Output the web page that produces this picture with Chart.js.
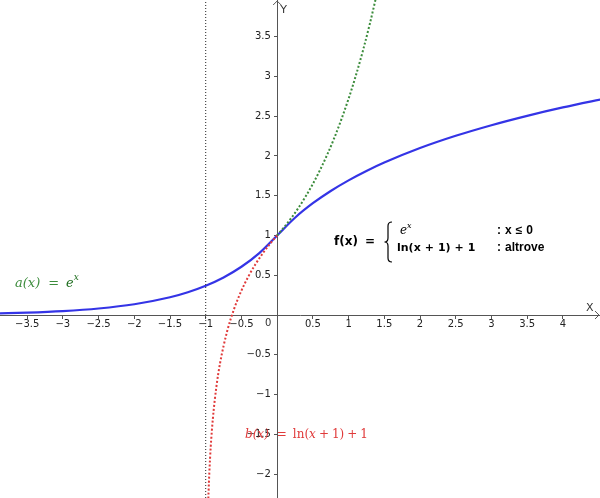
<!DOCTYPE html>
<html>
<head>
<meta charset="utf-8">
<script src="https://cdn.jsdelivr.net/npm/chart.js@4/dist/chart.umd.min.js"></script>
<style>
  html, body { margin: 0; padding: 0; background: #fff; }
  #grafico { display: block; }
</style>
</head>
<body>
<canvas id="grafico" width="600" height="498"></canvas>
<script>
// range degli assi
const xMin = -3.88, xMax = 4.52;
const yMin = -2.30, yMax = 3.96;

// tacche sugli assi
const xTicks = [-3.5, -3, -2.5, -2, -1.5, -1, -0.5, 0.5, 1, 1.5, 2, 2.5, 3, 3.5, 4];
const yTicks = [-2, -1.5, -1, -0.5, 0.5, 1, 1.5, 2, 2.5, 3, 3.5];

// f(x): e^x per x <= 0, ln(x+1)+1 altrove
const fX = [-3.9, -3.5, -3, -2.5, -2, -1.5, -1.25, -1, -0.75, -0.5, -0.25, 0,
            0.25, 0.5, 0.75, 1, 1.25, 1.5, 2, 2.5, 3, 3.5, 4, 4.6];
const fY = [0.0202, 0.0302, 0.0498, 0.0821, 0.1353, 0.2231, 0.2865, 0.3679, 0.4724, 0.6065, 0.7788, 1,
            1.2231, 1.4055, 1.5596, 1.6931, 1.8109, 1.9163, 2.0986, 2.2528, 2.3863, 2.5041, 2.6094, 2.7228];

// a(x) = e^x (tratteggiata, parte x > 0)
const aX = [0, 0.2, 0.4, 0.6, 0.8, 1.0, 1.1, 1.2, 1.3, 1.4];
const aY = [1, 1.2214, 1.4918, 1.8221, 2.2255, 2.7183, 3.0042, 3.3201, 3.6693, 4.0552];

// b(x) = ln(x+1)+1 (tratteggiata, parte -1 < x <= 0)
const bX = [-0.98, -0.975, -0.97, -0.96, -0.95, -0.93, -0.9, -0.85, -0.8, -0.7, -0.6, -0.5, -0.4, -0.3, -0.2, -0.1, 0];
const bY = [-2.912, -2.6889, -2.5066, -2.2189, -1.9957, -1.6593, -1.3026, -0.8971, -0.6094, -0.204, 0.0837, 0.3069, 0.4892, 0.6433, 0.7769, 0.8946, 1];

// asintoto verticale
const asintotoX = -1;

const pts = (xs, ys) => xs.map((x, i) => ({ x: x, y: ys[i] }));
const fmt = v => String(v).replace('-', '\u2212');

// scrive una sequenza di pezzi [testo, font, spazio dopo, spostamento y] a partire da x
function riga(c, pezzi, x, y) {
  pezzi.forEach(p => {
    c.font = p[1];
    c.fillText(p[0], x, y + (p[3] || 0));
    x += c.measureText(p[0]).width + (p[2] || 0);
  });
}

// testi e frecce disegnati sopra il grafico
const testiPlugin = {
  id: 'testi',
  afterDraw(chart) {
    const c = chart.ctx;
    const sx = chart.scales.x, sy = chart.scales.y;
    const ox = sx.getPixelForValue(0), oy = sy.getPixelForValue(0);
    const area = chart.chartArea;
    c.save();
    // frecce degli assi
    c.strokeStyle = '#555';
    c.lineWidth = 1;
    c.beginPath();
    c.moveTo(area.right - 5, oy - 4); c.lineTo(area.right - 1, oy); c.lineTo(area.right - 5, oy + 4);
    c.moveTo(ox - 4, area.top + 5); c.lineTo(ox, area.top + 1); c.lineTo(ox + 4, area.top + 5);
    c.stroke();
    // nomi assi e zero
    c.fillStyle = '#333';
    c.font = '11px "DejaVu Sans"';
    c.textBaseline = 'middle';
    c.textAlign = 'left';
    c.fillText('X', area.right - 14, oy - 7);
    c.fillText('Y', ox + 3, area.top + 10);
    c.textAlign = 'center';
    c.font = '10px "DejaVu Sans"';
    c.fillText('0', ox - 9, oy + 8);

    c.textAlign = 'left';
    c.textBaseline = 'alphabetic';
    const it = 'italic 13px "DejaVu Serif"', rm = '13px "DejaVu Serif"';
    const it2 = 'italic 12px "DejaVu Serif"', rm2 = '12px "DejaVu Serif"';

    // a(x) = e^x
    c.fillStyle = '#3c8c3c';
    riga(c, [['a(x)', it, 8], ['=', rm, 8]], 15, 287);
    c.fillStyle = '#1e6e1e';
    riga(c, [['e', it, 0], ['x', 'italic 9px "DejaVu Serif"', 0, -7]], 66, 287);

    // b(x) = ln(x+1)+1
    c.fillStyle = '#e03a3a';
    riga(c, [['b(x)', it2, 8], ['=', rm2, 6], ['ln', rm2, 0], ['(', rm2, 0], ['x', it2, 3],
             ['+', rm2, 3], ['1)', rm2, 3], ['+', rm2, 3], ['1', rm2, 0]], 245, 438);

    // definizione di f(x)
    c.fillStyle = '#000';
    const bd = 'bold 11px "DejaVu Sans"', bl = 'bold 12px "Liberation Sans"';
    riga(c, [['f(x)', 'bold 12px "DejaVu Sans"', 7], ['=', 'bold 12px "DejaVu Sans"', 0]], 334, 245);
    // parentesi graffa
    c.strokeStyle = '#000';
    c.lineWidth = 1.2;
    c.beginPath();
    c.moveTo(392, 222);
    c.quadraticCurveTo(388, 222, 388, 226);
    c.lineTo(388, 238);
    c.quadraticCurveTo(388, 242, 384.5, 242);
    c.quadraticCurveTo(388, 242, 388, 246);
    c.lineTo(388, 258);
    c.quadraticCurveTo(388, 262, 392, 262);
    c.stroke();
    riga(c, [['e', 'italic 12px "DejaVu Serif"', 0], ['x', 'italic 8px "DejaVu Serif"', 0, -6]], 400, 234);
    riga(c, [[':', bl, 4], ['x', bl, 4], ['\u2264', bl, 4], ['0', bl, 0]], 497, 234);
    riga(c, [['ln', bd, 0], ['(x', bd, 4], ['+', bd, 4], ['1)', bd, 4], ['+', bd, 4], ['1', bd, 0]], 397, 251);
    riga(c, [[':', bl, 4], ['altrove', bl, 0]], 497, 251);
    c.restore();
  }
};

const ctx = document.getElementById('grafico').getContext('2d');
new Chart(ctx, {
  type: 'scatter',
  data: {
    datasets: [{
      label: 'asintoto',
      data: [{ x: asintotoX, y: yMin }, { x: asintotoX, y: yMax }],
      showLine: true,
      borderColor: '#222',
      borderWidth: 1,
      borderDash: [1, 2],
      pointRadius: 0
    }, {
      label: 'b(x)',
      data: pts(bX, bY),
      showLine: true,
      borderColor: '#e03a3a',
      borderWidth: 2,
      borderDash: [2, 2],
      cubicInterpolationMode: 'monotone',
      pointRadius: 0
    }, {
      label: 'a(x)',
      data: pts(aX, aY),
      showLine: true,
      borderColor: '#3c8c3c',
      borderWidth: 2,
      borderDash: [2, 2],
      cubicInterpolationMode: 'monotone',
      pointRadius: 0
    }, {
      label: 'f(x)',
      data: pts(fX, fY),
      showLine: true,
      borderColor: '#3434e6',
      borderWidth: 2.2,
      cubicInterpolationMode: 'monotone',
      pointRadius: 0
    }]
  },
  options: {
    responsive: false,
    animation: false,
    layout: { padding: 0, autoPadding: false },
    plugins: { legend: { display: false }, tooltip: { enabled: false } },
    scales: {
      x: {
        type: 'linear',
        min: xMin, max: xMax,
        position: { y: 0 },
        afterBuildTicks: s => { s.ticks = xTicks.map(v => ({ value: v })); },
        afterFit: s => { s.paddingLeft = s.paddingRight = s.paddingTop = s.paddingBottom = 0; },
        grid: { drawOnChartArea: false, tickLength: 3, color: '#555' },
        border: { color: '#555' },
        ticks: {
          autoSkip: false, maxRotation: 0, padding: 0,
          color: '#222', font: { family: 'DejaVu Sans', size: 10 },
          callback: v => fmt(v)
        }
      },
      y: {
        type: 'linear',
        min: yMin, max: yMax,
        position: { x: 0 },
        afterBuildTicks: s => { s.ticks = yTicks.map(v => ({ value: v })); },
        afterFit: s => { s.paddingLeft = s.paddingRight = s.paddingTop = s.paddingBottom = 0; },
        grid: { drawOnChartArea: false, tickLength: 3, color: '#555' },
        border: { color: '#555' },
        ticks: {
          autoSkip: false, padding: 0,
          color: '#222', font: { family: 'DejaVu Sans', size: 10 },
          callback: v => fmt(v) + '  '
        }
      }
    }
  },
  plugins: [testiPlugin]
});
</script>
</body>
</html>
